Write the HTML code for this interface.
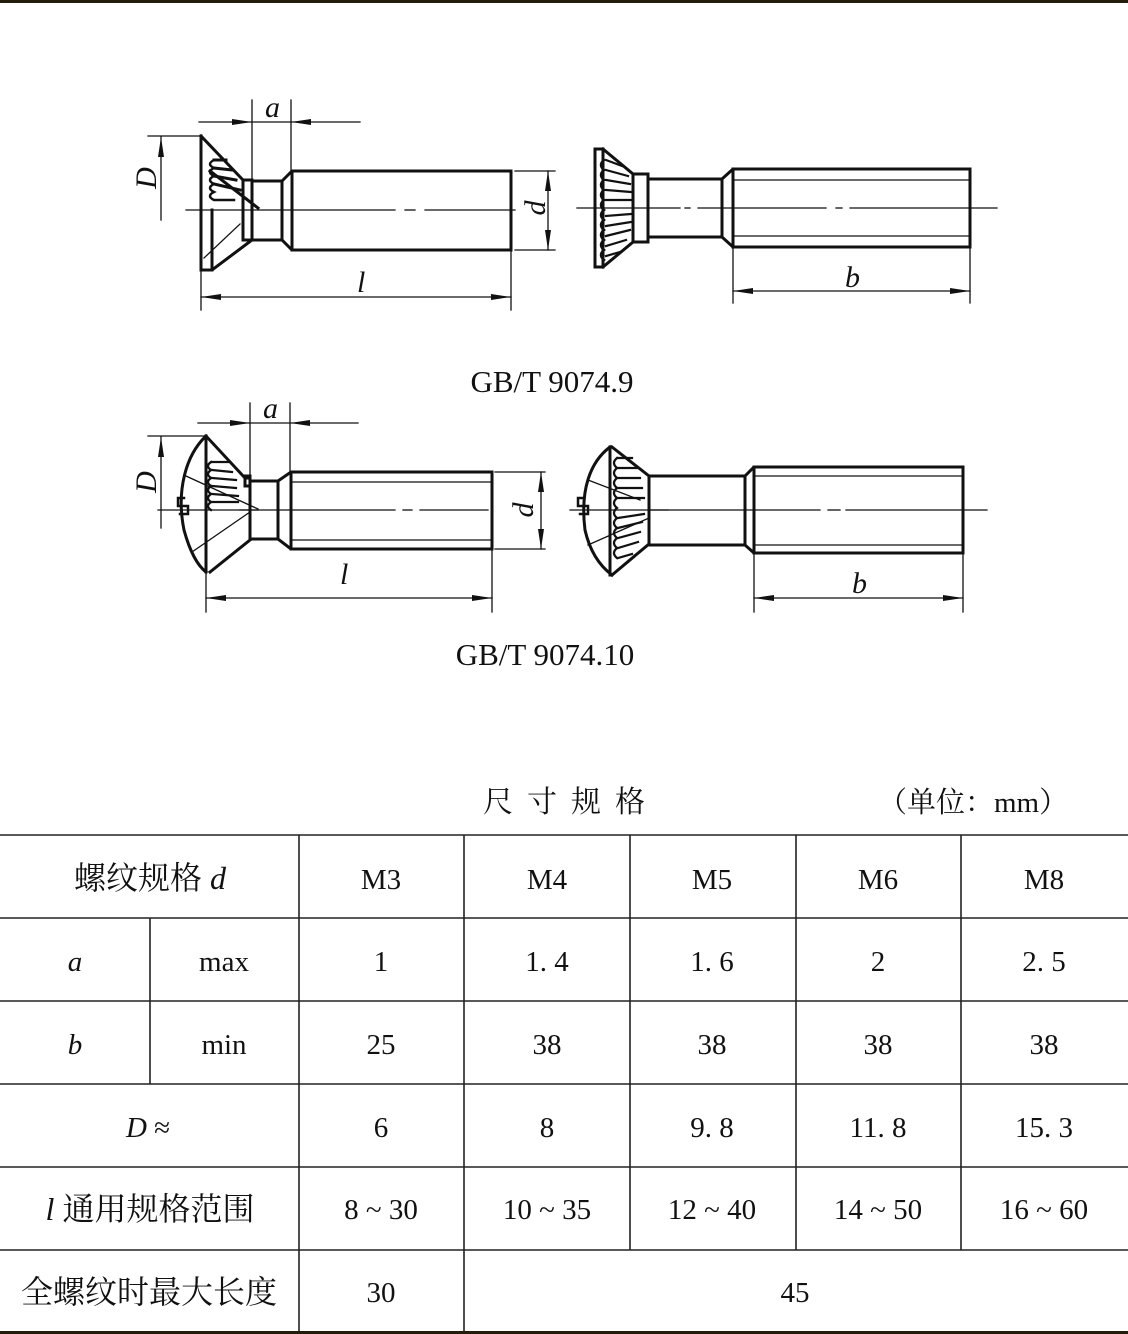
<!DOCTYPE html>
<html><head><meta charset="utf-8"><style>
html,body{margin:0;padding:0;background:#fff;}
svg{display:block;}
.s{font-family:"Liberation Serif","Noto Serif CJK SC",serif;fill:#111;}
.c{font-family:"Liberation Serif","Noto Serif CJK SC",serif;fill:#111;}
</style></head><body>
<svg width="1128" height="1334" viewBox="0 0 1128 1334" xmlns="http://www.w3.org/2000/svg">
<rect x="0" y="0" width="1128" height="3" fill="#231c0c"/>
<g fill="none" stroke="#111" stroke-linecap="square">
<g stroke-width="3">
<polyline points="201,136 201,270 212,270 252,240 252,180 243,180 201,136"/>
<line x1="243" y1="180" x2="243" y2="240"/>
<line x1="243" y1="240" x2="252" y2="240"/>
<polyline points="252,181 282,181 292,171 511,171 511,250 292,250 282,240 252,240"/>
<line x1="292" y1="171" x2="292" y2="250"/>
<line x1="282" y1="181" x2="282" y2="240"/>
<line x1="212" y1="210" x2="212" y2="270"/>
<line x1="210" y1="171" x2="258" y2="208"/>
<path d="M214,160 q-8,4 0,8 q-8,4 0,8 q-8,4 0,8 q-8,4 0,8 q-8,4 0,8 l20,0" stroke-width="2.5"/>
<path d="M214,160 l12,0 M214,168 l18,2 M214,176 l22,4 M214,184 l26,6"/>
</g>
<g stroke-width="1.3">
<line x1="186" y1="210" x2="395" y2="210"/>
<line x1="405" y1="210" x2="415" y2="210"/>
<line x1="425" y1="210" x2="515" y2="210"/>
<line x1="204" y1="258" x2="240" y2="224"/>
<line x1="515" y1="171" x2="555" y2="171"/>
<line x1="515" y1="250" x2="555" y2="250"/>
<line x1="548" y1="171" x2="548" y2="250"/>
<line x1="148" y1="136" x2="200" y2="136"/>
<line x1="161" y1="137" x2="161" y2="220"/>
<line x1="252" y1="100" x2="252" y2="180"/>
<line x1="291" y1="100" x2="291" y2="171"/>
<line x1="199" y1="122" x2="360" y2="122"/>
<line x1="201" y1="272" x2="201" y2="310"/>
<line x1="511" y1="252" x2="511" y2="310"/>
<line x1="201" y1="297" x2="511" y2="297"/>
</g>
<g stroke-width="3">
<rect x="595" y="149" width="8" height="118"/>
<polyline points="603,149 633,174 633,242 603,267"/>
<rect x="633" y="174" width="15" height="68"/>
<polyline points="648,179 722,179 733,169 970,169 970,247 733,247 722,237 648,237"/>
<line x1="722" y1="179" x2="722" y2="237"/>
<line x1="733" y1="169" x2="733" y2="247"/>
<path d="M604,160 q-6,5 0,10 q-6,5 0,10 q-6,5 0,10 q-6,5 0,10 q-6,5 0,10 q-6,5 0,10 q-6,5 0,10 q-6,5 0,10 q-6,5 0,10 q-6,5 0,10" stroke-width="2.5"/>
<path d="M606,160 l16,6 M606,170 l22,6 M606,180 l24,4 M606,190 l25,2 M606,200 l25,0 M606,216 l25,-2 M606,226 l25,-4 M606,236 l24,-6 M606,246 l20,-6 M606,256 l14,-4" stroke-width="2.2"/>
</g>
<g stroke-width="1.3">
<line x1="577" y1="208" x2="680" y2="208"/>
<line x1="685" y1="208" x2="690" y2="208"/>
<line x1="698" y1="208" x2="826" y2="208"/>
<line x1="836" y1="208" x2="842" y2="208"/>
<line x1="850" y1="208" x2="997" y2="208"/>
<line x1="733" y1="180" x2="970" y2="180"/>
<line x1="733" y1="236" x2="970" y2="236"/>
<line x1="733" y1="249" x2="733" y2="303"/>
<line x1="970" y1="249" x2="970" y2="303"/>
<line x1="733" y1="291" x2="970" y2="291"/>
</g>
<g stroke-width="3">
<path d="M206,436 C186,455 176,490 184,530 C190,552 198,566 206,572"/>
<path d="M184,498 l-6,0 l0,8 l10,0 l0,8 l-8,0" stroke-width="2.5"/>
<line x1="206" y1="436" x2="206" y2="572"/>
<polyline points="206,436 245,478 250,478"/>
<rect x="245" y="476" width="5" height="10"/>
<polyline points="210,572 250,540"/>
<polyline points="250,481 278,481 291,472 492,472 492,549 291,549 278,539 250,539 250,481"/>
<line x1="278" y1="481" x2="278" y2="539"/>
<line x1="291" y1="472" x2="291" y2="549"/>
<path d="M211,462 q-6,4 0,8 q-6,4 0,8 q-6,4 0,8 q-6,4 0,8 q-6,4 0,8 q-6,4 0,8" stroke-width="2.3"/>
<path d="M212,462 l16,0 M212,470 l20,2 M212,478 l24,2 M212,486 l24,2 M212,494 l26,2 M212,502 l26,0" stroke-width="2.2"/>
</g>
<g stroke-width="1.3">
<line x1="158" y1="510" x2="395" y2="510"/>
<line x1="403" y1="510" x2="412" y2="510"/>
<line x1="420" y1="510" x2="488" y2="510"/>
<line x1="186" y1="476" x2="258" y2="509"/>
<line x1="192" y1="552" x2="250" y2="512"/>
<line x1="240" y1="510" x2="258" y2="510"/>
<line x1="495" y1="472" x2="545" y2="472"/>
<line x1="495" y1="549" x2="545" y2="549"/>
<line x1="541" y1="472" x2="541" y2="549"/>
<line x1="148" y1="436" x2="205" y2="436"/>
<line x1="161" y1="437" x2="161" y2="528"/>
<line x1="250" y1="403" x2="250" y2="476"/>
<line x1="290" y1="403" x2="290" y2="472"/>
<line x1="198" y1="423" x2="358" y2="423"/>
<line x1="206" y1="574" x2="206" y2="612"/>
<line x1="492" y1="551" x2="492" y2="612"/>
<line x1="206" y1="598" x2="492" y2="598"/>
<line x1="291" y1="482" x2="492" y2="482"/>
<line x1="291" y1="540" x2="492" y2="540"/>
</g>
<g stroke-width="3">
<path d="M610,447 C590,462 580,490 585,530 C590,552 600,566 612,575"/>
<path d="M584,498 l-6,0 l0,8 l10,0 l0,8 l-8,0" stroke-width="2.5"/>
<line x1="610" y1="447" x2="610" y2="575"/>
<polyline points="612,447 649,476 649,544 612,575"/>
<polyline points="649,476 745,476 754,467 963,467 963,553 754,553 745,545 649,545"/>
<line x1="745" y1="476" x2="745" y2="545"/>
<line x1="754" y1="467" x2="754" y2="553"/>
<path d="M617,458 q-6,5 0,10 q-6,5 0,10 q-6,5 0,10 q-6,5 0,10 q-6,5 0,10 q-6,5 0,10 q-6,5 0,10 q-6,5 0,10 q-6,5 0,10 q-6,5 0,10" stroke-width="2.3"/>
<path d="M618,458 l14,0 M618,468 l20,0 M618,478 l22,0 M618,488 l24,0 M618,498 l26,0 M618,518 l26,-4 M618,528 l24,-6 M618,538 l22,-6 M618,548 l20,-6 M618,558 l14,-4" stroke-width="2.2"/>
</g>
<g stroke-width="1.3">
<line x1="570" y1="510" x2="820" y2="510"/>
<line x1="828" y1="510" x2="840" y2="510"/>
<line x1="846" y1="510" x2="987" y2="510"/>
<line x1="649" y1="510" x2="668" y2="510"/>
<line x1="588" y1="480" x2="640" y2="500"/>
<line x1="588" y1="545" x2="649" y2="518"/>
<line x1="754" y1="476" x2="963" y2="476"/>
<line x1="754" y1="545" x2="963" y2="545"/>
<line x1="754" y1="555" x2="754" y2="612"/>
<line x1="963" y1="555" x2="963" y2="612"/>
<line x1="754" y1="598" x2="963" y2="598"/>
</g>
</g>
<g fill="#111">
<polygon points="252,122 232,119 232,125"/><polygon points="291,122 311,119 311,125"/>
<polygon points="161,137 158,157 164,157"/>
<polygon points="548,171 545,191 551,191"/><polygon points="548,250 545,230 551,230"/>
<polygon points="201,297 221,294 221,300"/><polygon points="511,297 491,294 491,300"/>
<polygon points="733,291 753,288 753,294"/><polygon points="970,291 950,288 950,294"/>
<polygon points="250,423 230,420 230,426"/><polygon points="290,423 310,420 310,426"/>
<polygon points="161,437 158,457 164,457"/>
<polygon points="541,472 538,492 544,492"/><polygon points="541,549 538,529 544,529"/>
<polygon points="206,598 226,595 226,601"/><polygon points="492,598 472,595 472,601"/>
<polygon points="754,598 774,595 774,601"/><polygon points="963,598 943,595 943,601"/>
</g>
<g class="s" font-style="italic" font-size="30">
<text x="265" y="117">a</text>
<text x="357" y="292">l</text>
<text x="845" y="287">b</text>
<text x="263" y="418">a</text>
<text x="340" y="584">l</text>
<text x="852" y="593">b</text>
<text transform="translate(156,178) rotate(-90)" text-anchor="middle">D</text>
<text transform="translate(545,208) rotate(-90)" text-anchor="middle">d</text>
<text transform="translate(156,482) rotate(-90)" text-anchor="middle">D</text>
<text transform="translate(533,510) rotate(-90)" text-anchor="middle">d</text>
</g>
<g class="s" font-size="31">
<text x="552" y="392" text-anchor="middle">GB/T 9074.9</text>
<text x="545" y="665" text-anchor="middle">GB/T 9074.10</text>
</g>
<text class="c" x="483" y="812" font-size="30" letter-spacing="14">尺寸规格</text>
<text class="c" x="878" y="812" font-size="29">（单位：mm）</text>
<g stroke="#222" stroke-width="1.6">
<line x1="0" y1="835" x2="1128" y2="835"/>
<line x1="0" y1="918" x2="1128" y2="918"/>
<line x1="0" y1="1001" x2="1128" y2="1001"/>
<line x1="0" y1="1084" x2="1128" y2="1084"/>
<line x1="0" y1="1167" x2="1128" y2="1167"/>
<line x1="0" y1="1250" x2="1128" y2="1250"/>
<line x1="299" y1="835" x2="299" y2="1332"/>
<line x1="464" y1="835" x2="464" y2="1332"/>
<line x1="630" y1="835" x2="630" y2="1250"/>
<line x1="796" y1="835" x2="796" y2="1250"/>
<line x1="961" y1="835" x2="961" y2="1250"/>
<line x1="150" y1="918" x2="150" y2="1084"/>
</g>
<rect x="0" y="1331" width="1128" height="3" fill="#231c0c"/>
<g class="c" font-size="29" text-anchor="middle">
<text x="150" y="889" font-size="32">螺纹规格 <tspan font-style="italic">d</tspan></text>
<text x="381" y="889">M3</text><text x="547" y="889">M4</text><text x="712" y="889">M5</text><text x="878" y="889">M6</text><text x="1044" y="889">M8</text>
<text x="75" y="971" font-style="italic">a</text><text x="224" y="971">max</text>
<text x="381" y="971">1</text><text x="547" y="971">1. 4</text><text x="712" y="971">1. 6</text><text x="878" y="971">2</text><text x="1044" y="971">2. 5</text>
<text x="75" y="1054" font-style="italic">b</text><text x="224" y="1054">min</text>
<text x="381" y="1054">25</text><text x="547" y="1054">38</text><text x="712" y="1054">38</text><text x="878" y="1054">38</text><text x="1044" y="1054">38</text>
<text x="148" y="1137"><tspan font-style="italic">D</tspan> ≈</text>
<text x="381" y="1137">6</text><text x="547" y="1137">8</text><text x="712" y="1137">9. 8</text><text x="878" y="1137">11. 8</text><text x="1044" y="1137">15. 3</text>
<text x="150" y="1220" font-size="32"><tspan font-style="italic">l</tspan> 通用规格范围</text>
<text x="381" y="1219">8 ~ 30</text><text x="547" y="1219">10 ~ 35</text><text x="712" y="1219">12 ~ 40</text><text x="878" y="1219">14 ~ 50</text><text x="1044" y="1219">16 ~ 60</text>
<text x="149" y="1303" font-size="32">全螺纹时最大长度</text>
<text x="381" y="1302">30</text>
<text x="795" y="1302">45</text>
</g>
</svg>
</body></html>
